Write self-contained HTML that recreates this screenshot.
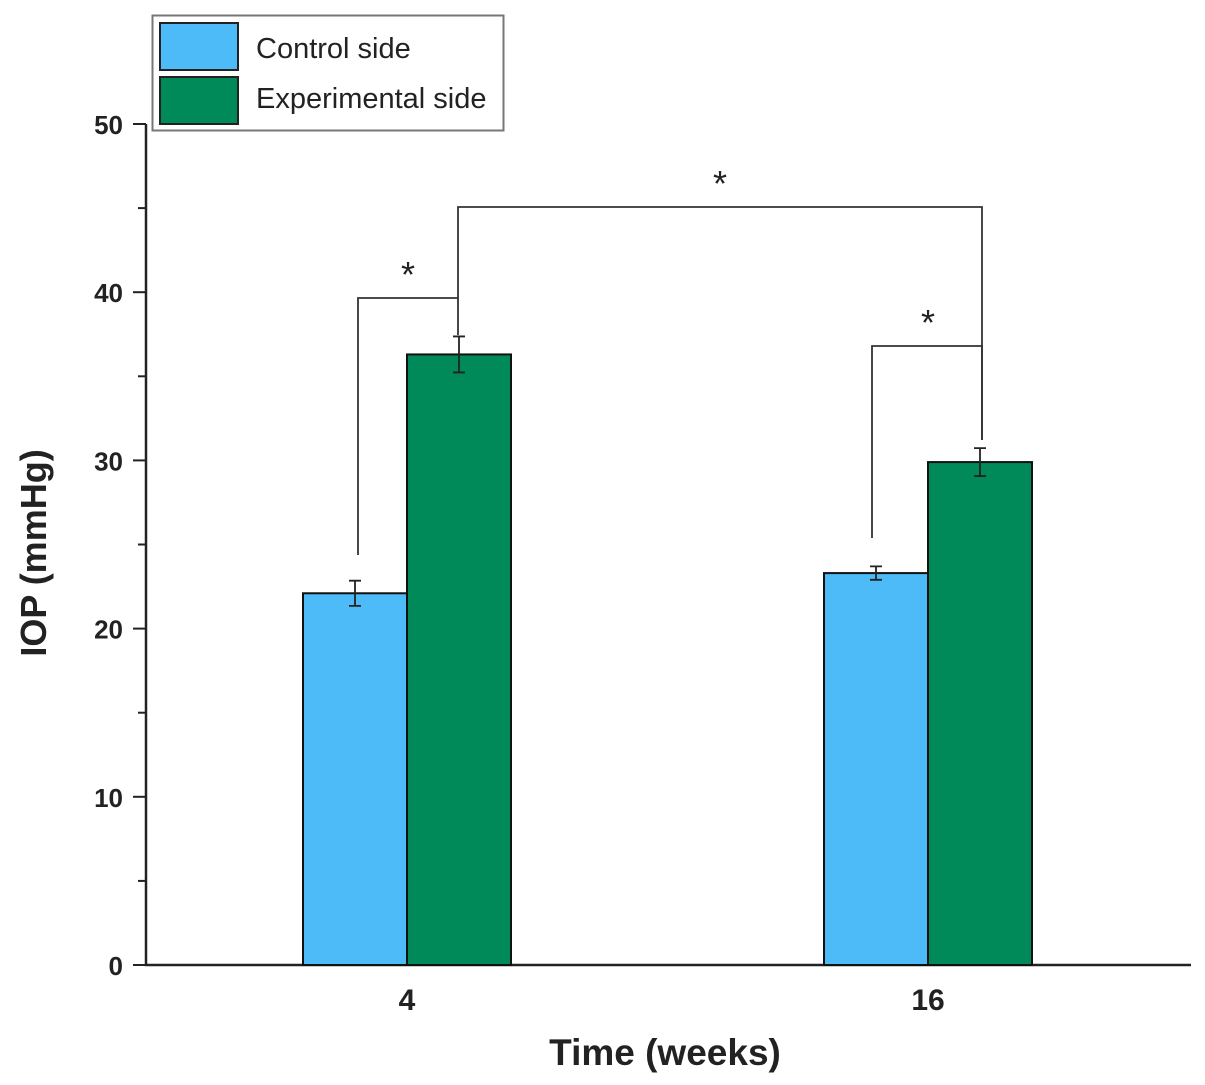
<!DOCTYPE html>
<html><head><meta charset="utf-8"><style>
html,body{margin:0;padding:0;background:#fff;}
svg{display:block;font-family:"Liberation Sans",Arial,sans-serif;}
</style></head><body>
<svg id="chart" width="1205" height="1085" viewBox="0 0 1205 1085">
<g id="axes"></g>
<g id="bars"></g>
<g id="sig"></g>
<text x="665" y="1065" text-anchor="middle" font-size="37" font-weight="bold" fill="#222">Time (weeks)</text>
<text transform="translate(46,553) rotate(-90)" text-anchor="middle" font-size="36" font-weight="bold" fill="#222">IOP (mmHg)</text>
<g>
<rect x="152.5" y="15.5" width="351" height="115" fill="#fff" stroke="#777" stroke-width="2"/>
<rect x="160" y="23" width="78" height="47" fill="#4dbbf7" stroke="#222" stroke-width="2"/>
<text x="256" y="58" font-size="29" fill="#222">Control side</text>
<rect x="160" y="77" width="78" height="47" fill="#008a5a" stroke="#222" stroke-width="2"/>
<text x="256" y="108" font-size="29" fill="#222">Experimental side</text>
</g>
</svg>
<script>
const categories = ["4", "16"];
const controlValues = [22.1, 23.3];
const controlErrors = [0.75, 0.4];
const experimentalValues = [36.3, 29.9];
const experimentalErrors = [1.07, 0.83];
const yTicks = [0, 10, 20, 30, 40, 50];

const NS = "http://www.w3.org/2000/svg";
const y = v => 965 - v * (965 - 124) / 50;
const xCenter = i => 407 + i * 521;
const barW = 104;
function mk(parent, tag, attrs) {
  const e = document.createElementNS(NS, tag);
  for (const k in attrs) e.setAttribute(k, attrs[k]);
  parent.appendChild(e);
  return e;
}
const axes = document.getElementById('axes');
const bars = document.getElementById('bars');
const sig = document.getElementById('sig');

let el = mk(axes, 'line', {x1: 146, y1: 124, x2: 146, y2: 966, stroke: '#222', 'stroke-width': 2.5});


el = mk(axes, 'line', {x1: 145, y1: 965, x2: 1191, y2: 965, stroke: '#222', 'stroke-width': 2.5});



yTicks.forEach((t, i) => {
  const tk = mk(axes, 'line', {x1: 133, y1: y(t), x2: 146, y2: y(t), stroke: '#222', 'stroke-width': 2});
  
  
  const lb = mk(axes, 'text', {x: 123, y: y(t) + 10, 'text-anchor': 'end', 'font-size': 26, 'font-weight': 'bold', fill: '#222'});
  lb.textContent = t;
  
  
  if (i < yTicks.length - 1) {
    const m = (t + yTicks[i + 1]) / 2;
    const mt = mk(axes, 'line', {x1: 138, y1: y(m), x2: 146, y2: y(m), stroke: '#222', 'stroke-width': 2});
    
    
  }
});

categories.forEach((c, i) => {
  const cx = xCenter(i);
  const lb = mk(axes, 'text', {x: cx, y: 1010, 'text-anchor': 'middle', 'font-size': 30, 'font-weight': 'bold', fill: '#222'});
  lb.textContent = c;
  
  
  [[controlValues, controlErrors, '#4dbbf7', cx - barW, 'bar-control'], [experimentalValues, experimentalErrors, '#008a5a', cx, 'bar-experimental']].forEach(s => {
    const v = s[0][i], e = s[1][i];
    const r = mk(bars, 'rect', {x: s[3], y: y(v), width: barW, height: 965 - y(v), fill: s[2], stroke: '#111', 'stroke-width': 2});
    
    
    const bx = s[3] + barW / 2;
    const g = mk(bars, 'path', {d: `M${bx - 6},${y(v + e)}H${bx + 6}M${bx},${y(v + e)}V${y(v - e)}M${bx - 6},${y(v - e)}H${bx + 6}`, stroke: '#222', 'stroke-width': 1.8, fill: 'none'});
    
    
  });
});

function bracket(x1, y1a, x2, y2a, top, sx, sy) {
  const p = mk(sig, 'path', {d: `M${x1},${y1a}V${top}H${x2}V${y2a}`, stroke: '#333', 'stroke-width': 1.8, fill: 'none'});
  
  
  const s = mk(sig, 'text', {x: sx, y: sy, 'text-anchor': 'middle', 'font-size': 36, fill: '#222'});
  s.textContent = '*';
  
  
}
bracket(358, 555, 458, 335, 298, 408, 287);
bracket(458, 298, 982, 440, 207, 720, 196);
bracket(872, 538, 982, 440, 346, 928, 335);
</script>
</body></html>
